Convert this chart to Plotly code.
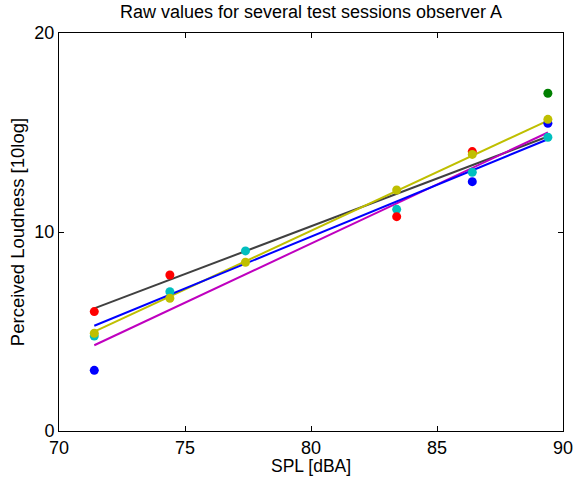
import plotly.graph_objects as go

# SPL levels (dBA)
spl = [71.4, 74.4, 77.4, 83.4, 86.4, 89.4]

# Raw perceived loudness per session (None = hidden / not visible)
sess_blue = [3.05, None, None, None, 12.53, 15.46]
sess_green = [None, None, None, None, None, 16.97]
sess_cyan = [4.77, 7.0, 9.05, 11.14, 13.0, 14.76]
sess_red = [6.0, 7.84, None, 10.77, 14.04, None]
sess_yellow = [4.91, 6.67, 8.48, 12.11, 13.9, 15.66]

# Linear fits (value at first and last SPL)
fit_x = [71.4, 89.4]
fit_gray = [6.16, 14.8]
fit_magenta = [4.31, 15.0]
fit_yellow = [4.99, 15.6]
fit_blue = [5.29, 14.66]

xticks = [70, 75, 80, 85, 90]
yticks = [0, 10, 20]

fig = go.Figure()

for vals, col in [(fit_gray, "#404040"), (fit_magenta, "#BF00BF"),
                  (fit_yellow, "#BFBF00"), (fit_blue, "#0000FF")]:
    fig.add_trace(go.Scatter(x=fit_x, y=vals, mode="lines",
                             line=dict(color=col, width=2), showlegend=False))

for vals, col in [(sess_blue, "#0000FF"), (sess_green, "#008000"),
                  (sess_cyan, "#00BFBF"), (sess_red, "#FF0000"),
                  (sess_yellow, "#BFBF00")]:
    fig.add_trace(go.Scatter(x=spl, y=vals, mode="markers",
                             marker=dict(color=col, size=9, line=dict(width=0)),
                             showlegend=False))

font = "Liberation Sans, Arial, sans-serif"
fig.update_layout(
    width=574, height=479,
    margin=dict(l=59, r=11, t=33, b=48),
    paper_bgcolor="white", plot_bgcolor="white",
    font=dict(family=font, color="black", size=18),
    title=dict(text="Raw values for several test sessions observer A",
               xref="paper", x=0.5, xanchor="center", y=0.975, yanchor="middle",
               font=dict(size=18)),
    xaxis=dict(range=[70, 90], tickvals=xticks, ticks="inside", ticklen=5,
               tickcolor="black", showline=True, linecolor="black", linewidth=1,
               mirror="allticks", showgrid=False, zeroline=False,
               tickfont=dict(size=18), ticklabeloverflow="allow",
               ticklabelstandoff=0, automargin=False),
    yaxis=dict(range=[0, 20], tickvals=yticks, ticks="inside", ticklen=5,
               tickcolor="black", showline=True, linecolor="black", linewidth=1,
               mirror="allticks", showgrid=False, zeroline=False,
               tickfont=dict(size=18), automargin=False,
               title=dict(text="Perceived Loudness [10log]", font=dict(size=18.5),
                          standoff=4)),
    annotations=[dict(text="SPL [dBA]", xref="paper", yref="paper",
                      x=0.5, y=0, yshift=-35, xanchor="center", yanchor="middle",
                      showarrow=False, font=dict(size=17.5))],
)

fig.write_html("out.html", post_script="document.body.style.margin='0';",
               config={"displayModeBar": False})
